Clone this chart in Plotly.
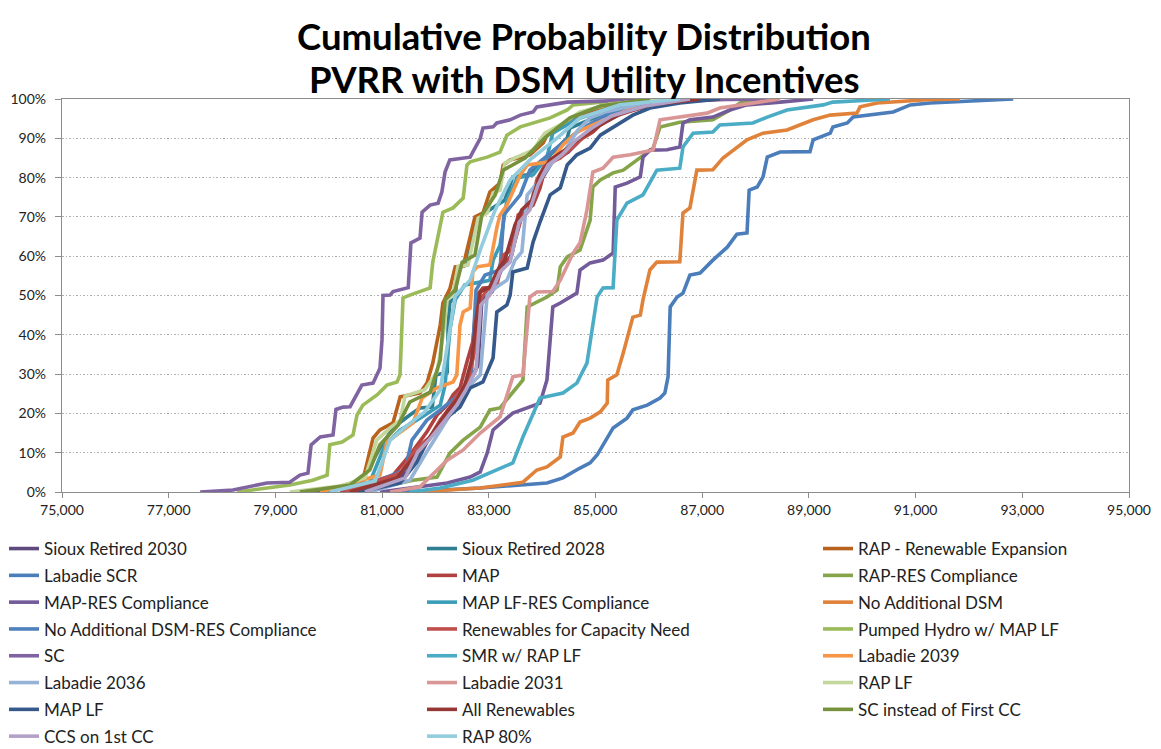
import plotly.graph_objects as go

# ---- data: PVRR ($) and cumulative probability (%) ----
SIOUX_2030_X = [80490, 81370, 81710, 81990, 82240, 82420, 82610, 82800, 82870, 83060, 83250, 83430, 83590, 83810, 83960, 84190, 84490, 84750, 85090, 85550, 86210, 87140]
SIOUX_2030_Y = [0, 4.1, 10.7, 15.3, 19.8, 22.9, 27.2, 32.3, 48.9, 50.9, 57, 60.3, 70.5, 73, 78.9, 84, 86.5, 90.1, 93.6, 96.7, 99, 100]

SIOUX_2028_X = [79650, 80590, 80960, 81205, 81520, 81710, 81940, 82010, 82220, 82240, 82270, 82370, 82420, 82590, 82700, 82800, 83020, 83300, 83450, 83720, 84150, 84470, 84520, 85090, 85650, 86580]
SIOUX_2028_Y = [0, 2, 11.2, 16.3, 19.6, 21.4, 21.6, 29.8, 30.5, 43.3, 48.3, 49.4, 57, 57.8, 66.2, 69.7, 71.8, 74.3, 80.2, 80.7, 85.8, 90.1, 92.6, 95.9, 98.2, 100]

RAP_RENEW_X = [79460, 80210, 80640, 80830, 80960, 81205, 81340, 81710, 81840, 81950, 82090, 82140, 82270, 82370, 82520, 82740, 82890, 83020, 83210, 83270, 83400, 83770, 84020, 84090, 84340, 84710, 85090, 85700, 86580]
RAP_RENEW_Y = [0, 1.3, 3, 13.7, 15.8, 17.6, 24.2, 25.2, 27.7, 32.8, 42.5, 48.1, 51.7, 57.3, 57.5, 70, 71, 76.3, 78.6, 83.2, 84.5, 85.8, 88.8, 90.8, 92.9, 95.9, 97.7, 98.9, 100]

LABADIE_SCR_X = [81340, 82840, 84090, 84390, 84710, 84900, 85030, 85220, 85330, 85590, 85700, 85970, 86210, 86300, 86360, 86400, 86530, 86640, 86770, 86960, 87200, 87470, 87650, 87840, 87880, 88030, 88140, 88220, 88460, 89020, 89080, 89400, 89450, 89720, 89830, 90580, 90900, 91270, 92830]
LABADIE_SCR_Y = [0, 1, 2.3, 3.6, 6.1, 7.4, 9.4, 14, 16.3, 18.8, 20.9, 22.1, 23.9, 25.2, 29.3, 47.1, 49.6, 50.6, 55.2, 55.7, 59, 62.3, 65.6, 65.9, 76.8, 77.6, 80.2, 85.2, 86.5, 86.6, 89.6, 91.3, 92.9, 93.9, 95.4, 96.7, 98.5, 99, 100]

MAP_X = [80210, 81205, 81520, 81710, 81840, 82030, 82220, 82330, 82460, 82590, 82700, 82780, 82890, 83080, 83210, 83400, 83640, 83830, 83960, 84090, 84200, 84470, 84650, 84950, 85090, 85400, 85700, 86580, 87330]
MAP_Y = [0, 4.3, 9.4, 12.7, 15.3, 19.6, 22.1, 24.7, 26.5, 33.1, 38.2, 50.1, 51.9, 52, 57.8, 59.5, 71.2, 73, 77.4, 84, 85, 86.5, 89.1, 91.6, 93.4, 95.9, 97.7, 99.5, 100]

RAP_RES_X = [80590, 81580, 82030, 82270, 82520, 82840, 83020, 83210, 83640, 83720, 84090, 84280, 84340, 84470, 84710, 84900, 84950, 85090, 85330, 85520, 86080, 86210, 86580, 87200, 87520, 87710, 88140]
RAP_RES_Y = [0, 3, 3.8, 9.9, 13.2, 16.5, 20.9, 21.4, 28.5, 47.1, 49.6, 51.4, 57.3, 59.8, 61.6, 69.2, 77.6, 79.4, 81.2, 81.9, 87.5, 92.9, 94.1, 94.7, 97.2, 99, 100]

MAP_RES_X = [80960, 82220, 82650, 82840, 82970, 83080, 83450, 83770, 83960, 84090, 84200, 84340, 84650, 84710, 84900, 85140, 85330, 85370, 85590, 85840, 85890, 86020, 86340, 86580, 86640, 86770, 87200, 87520, 87840, 88460, 89080]
MAP_RES_Y = [0, 2.3, 3.8, 5.1, 9.9, 15.8, 20.1, 21.6, 22.6, 28.5, 47.1, 48.1, 50.6, 56.5, 58.3, 59, 60.8, 77.6, 78.6, 80.2, 85.2, 87, 87.1, 87.8, 93.9, 94.7, 95.4, 97.2, 98.5, 99.2, 100]

MAP_LF_RES_X = [79840, 80770, 81055, 81340, 81710, 82090, 82180, 82270, 82370, 82550, 82840, 83020, 83080, 83210, 83340, 83530, 83830, 84090, 84200, 84620, 85270, 86210, 86960]
MAP_LF_RES_Y = [0, 2.5, 12, 15.8, 18.8, 22.1, 27.2, 41.2, 48.9, 52.7, 53.4, 53.9, 59, 62.8, 74.3, 79.9, 80.7, 85.2, 91.3, 94.7, 97.7, 99.7, 100]

NO_DSM_X = [81620, 82840, 83640, 83900, 84090, 84340, 84390, 84580, 84710, 84900, 85090, 85220, 85230, 85400, 85520, 85700, 85840, 85890, 86020, 86150, 86580, 86640, 86770, 86900, 87200, 87390, 87840, 88140, 88590, 89080, 89400, 89900, 89960, 90280, 91210, 91830]
NO_DSM_Y = [0, 1, 2.5, 5.6, 6.4, 8.9, 14, 15, 17.8, 18.8, 20.4, 22.6, 28.5, 29.8, 35.4, 44.5, 45, 48.9, 56.5, 58.5, 58.6, 71, 72.3, 81.9, 82, 85, 89.6, 91.3, 92.1, 94.7, 95.9, 96.4, 98, 99, 99.8, 100]

NO_DSM_RES_X = [80400, 81430, 81560, 81840, 82090, 82370, 82550, 82680, 82760, 82930, 83210, 83280, 83430, 83590, 83770, 84050, 84340, 84710, 85090, 85650, 86580]
NO_DSM_RES_Y = [0, 5.6, 13.2, 18.3, 20.9, 23.9, 26, 31, 51.4, 55.2, 56.5, 70.5, 73, 75.6, 81.9, 85, 88.3, 92.1, 95.2, 98, 100]

RENEW_CAP_X = [80300, 81340, 81620, 81900, 82090, 82270, 82420, 82610, 82740, 82840, 82970, 83150, 83270, 83430, 83550, 83770, 83900, 84050, 84340, 84620, 84900, 85270, 85840, 86770, 87520]
RENEW_CAP_Y = [0, 4.8, 10.7, 14, 18.3, 21.4, 24.7, 28.5, 36.1, 48.9, 51.4, 52.4, 60.3, 61.6, 70.5, 72.3, 79.4, 83.2, 85, 88.3, 92.1, 95.2, 97.7, 99.5, 100]

PUMPED_HYDRO_X = [78280, 78840, 79270, 79700, 79970, 80020, 80250, 80455, 80530, 80640, 80830, 80905, 81090, 81280, 81336, 81392, 81520, 81900, 81950, 82030, 82140, 82330, 82520, 82590, 82650, 82970, 83210, 83340, 83590, 84150, 84470, 84580, 85090, 86020]
PUMPED_HYDRO_Y = [0, 1, 1.8, 3, 4.3, 12, 12.7, 14.5, 19.6, 22.1, 23.9, 24.7, 27.2, 28, 29.8, 49.4, 50.1, 51.9, 58.5, 63.6, 71.2, 72.3, 74.8, 83.2, 84, 85.2, 86.5, 90.8, 92.9, 95.2, 97.2, 98.5, 99.2, 100]

SC_X = [77590, 78205, 78840, 79270, 79460, 79610, 79670, 79840, 80080, 80135, 80270, 80400, 80620, 80830, 80960, 80998, 81017, 81150, 81205, 81490, 81540, 81710, 81750, 81900, 82050, 82120, 82180, 82270, 82650, 82840, 82890, 83080, 83150, 83400, 83590, 83830, 83900, 84150, 84470, 85700, 88460]
SC_Y = [0, 0.5, 2.3, 2.5, 4.3, 4.8, 12, 14, 14.5, 21, 21.6, 21.7, 27.2, 27.7, 31.5, 38.7, 50, 50.1, 51, 52, 63.4, 64.6, 71.2, 73, 73.5, 76.3, 81.4, 84.5, 85.2, 90, 92.6, 92.9, 93.9, 94.7, 95.9, 96.7, 98, 98.5, 99.2, 99.7, 100]

SMR_X = [81520, 82090, 82700, 83400, 83450, 83640, 83960, 84390, 84650, 84840, 85030, 85140, 85330, 85400, 85590, 85890, 86150, 86580, 86640, 86830, 87200, 87330, 87950, 88220, 88590, 89270, 89450, 90520]
SMR_Y = [0, 1, 3, 6.9, 7.4, 14, 23.9, 25.2, 27.7, 32.8, 49.6, 51.9, 52, 69.2, 73.5, 75.6, 81.9, 82.4, 87.8, 91.3, 91.6, 93.4, 93.9, 95.4, 97.2, 98.5, 99.2, 100]

LABADIE_2039_X = [79840, 80590, 80960, 81090, 81340, 81580, 81750, 82030, 82330, 82400, 82460, 82520, 82650, 82700, 82780, 83020, 83150, 83210, 83340, 83590, 83720, 84150, 84390, 84650, 84950, 85400, 85700, 86020, 86960]
LABADIE_2039_Y = [0, 3, 4.3, 12.7, 15.3, 17.6, 23.9, 26.5, 28, 29.8, 42.5, 45.8, 46.8, 56, 57.3, 57.8, 67.2, 70.5, 73, 80.7, 83.2, 84, 88.3, 91.6, 93.4, 95.9, 97.7, 98.5, 100]

LABADIE_2036_X = [80770, 81520, 81800, 82090, 82270, 82460, 82650, 82840, 82970, 83120, 83340, 83490, 83620, 83720, 83960, 84150, 84430, 84670, 84900, 85180, 85840, 86770]
LABADIE_2036_Y = [0, 3, 9.4, 15.8, 19.6, 22.1, 27.2, 29.8, 50.1, 51.9, 53.9, 59, 61.1, 75.6, 79.4, 83.2, 87, 92.1, 95.2, 96.7, 98.7, 100]

LABADIE_2031_X = [81150, 81710, 82220, 82520, 82840, 83210, 83450, 83640, 83770, 83900, 84200, 84340, 84580, 84710, 84840, 84950, 85140, 85330, 85650, 86080, 86210, 86580, 87090, 87330, 88460]
LABADIE_2031_Y = [0, 1.3, 8.1, 10.7, 15, 19.1, 29.3, 29.8, 49.6, 50.9, 51, 53.9, 60.8, 63.4, 71.8, 81.4, 82.4, 85.2, 85.8, 87, 94.7, 95.4, 96.4, 97.7, 100]

RAP_LF_X = [79270, 80210, 80680, 80900, 81150, 81340, 81430, 81800, 82030, 82160, 82220, 82330, 82420, 82610, 82800, 82970, 83080, 83210, 83300, 83490, 83830, 84050, 84340, 84710, 85270, 86210]
RAP_LF_Y = [0, 1.5, 3.6, 13.2, 16.3, 18.3, 24.4, 26, 30.5, 41.2, 48.9, 50.4, 57.3, 57.8, 69.7, 71, 76.1, 76.8, 83.7, 85, 87, 91.3, 93.4, 96.7, 98.7, 100]

MAP_LF_X = [80590, 81340, 81650, 81840, 82030, 82270, 82460, 82650, 82890, 83080, 83150, 83340, 83400, 83450, 83720, 83830, 83960, 84150, 84340, 84470, 84650, 84900, 85090, 85400, 85700, 86020, 86580, 87330]
MAP_LF_Y = [0, 2.3, 7.6, 12.7, 16.3, 19.6, 21.6, 26.5, 28, 34.1, 45.8, 47.6, 50.1, 56, 57, 63.6, 68.7, 75.6, 77.4, 83.2, 85.8, 87.5, 90.8, 93.4, 95.9, 97.7, 99, 100]

ALL_RENEW_X = [80400, 81280, 81580, 81800, 82050, 82240, 82400, 82550, 82680, 82760, 82840, 83020, 83170, 83300, 83490, 83620, 83810, 83960, 84150, 84430, 84710, 85050, 85460, 86020, 86960]
ALL_RENEW_Y = [0, 3.6, 8.7, 12, 17, 20.9, 23.4, 27.2, 33.6, 43.8, 50.9, 52.2, 56.5, 59, 67.9, 71.8, 74.3, 80.7, 84.5, 87, 90.1, 93.1, 96.2, 98.5, 100]

SC_FIRST_CC_X = [79460, 80400, 80770, 80960, 81300, 81520, 81900, 82090, 82180, 82370, 82500, 82740, 82870, 83120, 83270, 83680, 84050, 84520, 85090, 86020]
SC_FIRST_CC_Y = [0, 1.8, 5.6, 12, 17, 22.9, 25.4, 33.6, 48.9, 51.4, 58.5, 60.3, 70.5, 75.6, 81.9, 85, 90.1, 95.2, 98.2, 100]

CCS_X = [80680, 81430, 81670, 81940, 82180, 82390, 82570, 82760, 82850, 83020, 83210, 83400, 83570, 83770, 83920, 84110, 84370, 84640, 84930, 85300, 85930, 86770]
CCS_Y = [0, 3.6, 10.2, 14.2, 18.3, 21.9, 26, 31, 47.6, 50.1, 56, 58.5, 68.7, 71.8, 78.1, 83.2, 85.8, 89.6, 92.6, 95.7, 98.2, 100]

RAP80_X = [80020, 80870, 81150, 81430, 81800, 82090, 82240, 82370, 82650, 82840, 83120, 83400, 83770, 84240, 84710, 85460, 86580]
RAP80_Y = [0, 2.8, 13.2, 16.5, 20.4, 26, 38.7, 49.9, 53.9, 61.6, 71.8, 79.4, 84.5, 89.6, 95.2, 98.5, 100]

SERIES_NAMES = [
    "Sioux Retired 2030", "Sioux Retired 2028", "RAP - Renewable Expansion",
    "Labadie SCR", "MAP", "RAP-RES Compliance",
    "MAP-RES Compliance", "MAP LF-RES Compliance", "No Additional DSM",
    "No Additional DSM-RES Compliance", "Renewables for Capacity Need", "Pumped Hydro w/ MAP LF",
    "SC", "SMR w/ RAP LF", "Labadie 2039",
    "Labadie 2036", "Labadie 2031", "RAP LF",
    "MAP LF", "All Renewables", "SC instead of First CC",
    "CCS on 1st CC", "RAP 80%",
]
SERIES_X = [SIOUX_2030_X, SIOUX_2028_X, RAP_RENEW_X, LABADIE_SCR_X, MAP_X, RAP_RES_X,
            MAP_RES_X, MAP_LF_RES_X, NO_DSM_X, NO_DSM_RES_X, RENEW_CAP_X, PUMPED_HYDRO_X,
            SC_X, SMR_X, LABADIE_2039_X, LABADIE_2036_X, LABADIE_2031_X, RAP_LF_X,
            MAP_LF_X, ALL_RENEW_X, SC_FIRST_CC_X, CCS_X, RAP80_X]
SERIES_Y = [SIOUX_2030_Y, SIOUX_2028_Y, RAP_RENEW_Y, LABADIE_SCR_Y, MAP_Y, RAP_RES_Y,
            MAP_RES_Y, MAP_LF_RES_Y, NO_DSM_Y, NO_DSM_RES_Y, RENEW_CAP_Y, PUMPED_HYDRO_Y,
            SC_Y, SMR_Y, LABADIE_2039_Y, LABADIE_2036_Y, LABADIE_2031_Y, RAP_LF_Y,
            MAP_LF_Y, ALL_RENEW_Y, SC_FIRST_CC_Y, CCS_Y, RAP80_Y]
COLORS = ["#5F4A7E", "#2F7F93", "#B8621E", "#4A7DBA", "#B0413E", "#86A44A",
          "#735A99", "#3B9DB7", "#E0823A", "#4F81BD", "#C0504D", "#9BBB59",
          "#8064A2", "#4BACC6", "#F79646", "#95B3D7", "#D99694", "#C3D69B",
          "#35598A", "#953735", "#76923C", "#B3A2C7", "#93CDDD"]

TITLE_LINES = ["Cumulative Probability Distribution", "PVRR with DSM Utility Incentives"]
X_TICKS = [75000, 77000, 79000, 81000, 83000, 85000, 87000, 89000, 91000, 93000, 95000]
Y_TICKS = [0, 10, 20, 30, 40, 50, 60, 70, 80, 90, 100]
Y_TICK_TEXT = [f"{v}%" for v in Y_TICKS]

# The page body has an 8px margin, so the figure is placed 8px in from the
# window's top-left corner; sizes below compensate for it.
OFF = 8
W, H = 1161 - OFF, 749 - OFF
L, T = 62 - OFF, 99 - OFF
R = W - (1129 - OFF)
B = H - (492 - OFF)
PW, PH = W - L - R, H - T - B
FONT = "Lato"


def fx(px):
    """reference-window x pixel -> paper x"""
    return (px - OFF - L) / PW


def fy(py):
    """reference-window y pixel -> paper y"""
    return (H - B - (py - OFF)) / PH


fig = go.Figure()
legend_keys = ["legend", "legend2", "legend3"]
for i, (name, xs, ys, c) in enumerate(zip(SERIES_NAMES, SERIES_X, SERIES_Y, COLORS)):
    fig.add_trace(go.Scatter(
        x=xs, y=ys, mode="lines", name=name,
        line=dict(color=c, width=3.6),
        legend=legend_keys[i % 3], legendgroup=f"g{i}",
        hoverinfo="skip",
    ))

leg_common = dict(
    orientation="v", xref="paper", yref="paper", xanchor="left", yanchor="top",
    y=fy(531), font=dict(family=FONT, size=17, color="#222"),
    tracegroupgap=1.7, bgcolor="rgba(0,0,0,0)", itemwidth=30,
)
fig.update_layout(
    width=W, height=H,
    margin=dict(l=L, r=R, t=T, b=B, autoexpand=False),
    paper_bgcolor="white", plot_bgcolor="white",
    showlegend=True,
    legend=dict(x=fx(4), **leg_common),
    legend2=dict(x=fx(422), **leg_common),
    legend3=dict(x=fx(818), **leg_common),
    xaxis=dict(
        range=[75000, 95000], tickvals=X_TICKS, tickformat=",d",
        showgrid=False, zeroline=False,
        showline=True, linecolor="#8c8c8c", linewidth=1.3, mirror=True,
        ticks="outside", ticklen=5, tickcolor="#8c8c8c",
        tickfont=dict(family=FONT, size=14, color="#222"),
    ),
    yaxis=dict(
        range=[0, 100], tickvals=Y_TICKS, ticktext=Y_TICK_TEXT,
        showgrid=True, gridcolor="#b0b0b0", griddash="1.5px,2px", gridwidth=1,
        zeroline=False,
        showline=True, linecolor="#8c8c8c", linewidth=1.3, mirror=True,
        ticks="outside", ticklen=6, tickcolor="#8c8c8c", ticklabelstandoff=6,
        tickfont=dict(family=FONT, size=14, color="#222"),
    ),
)

for line_text, cy in zip(TITLE_LINES, [36, 79]):
    fig.add_annotation(
        text=f"<b>{line_text}</b>", xref="paper", yref="paper",
        x=fx(584), y=fy(cy), xanchor="center", yanchor="middle",
        showarrow=False, font=dict(family=FONT, size=36.5, color="black"),
    )

fig.write_html("out.html")
